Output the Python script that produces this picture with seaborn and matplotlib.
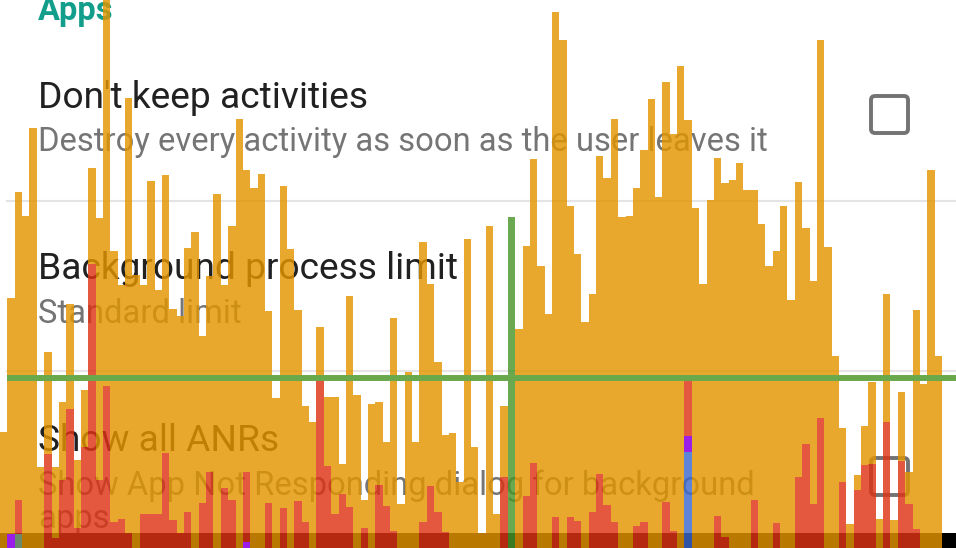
import numpy as np
import pandas as pd
import seaborn as sns
import matplotlib
matplotlib.use("Agg")
import matplotlib.pyplot as plt
import matplotlib.transforms as mtransforms
from matplotlib.patches import FancyBboxPatch, Rectangle

W, H = 956, 548
N_FRAMES = 128
BAR_PX = 942 / N_FRAMES
BAR_ALPHA = 0.82
STRIP_PX = 15          # dark navigation strip at the bottom
THRESHOLD_PX = 170     # 16 ms line, height above bottom edge

# total bar height per frame (px above bottom edge)
frame_total = [116, 250, 356, 332, 420, 81, 196, 81, 146, 244, 88, 158, 380, 330, 560, 297,
               263, 450, 273, 263, 367, 258, 373, 239, 232, 300, 316, 212, 272, 354, 263, 322,
               429, 378, 360, 374, 237, 150, 362, 299, 238, 142, 126, 221, 151, 151, 84, 252,
               153, 48, 144, 146, 106, 230, 44, 176, 106, 306, 264, 186, 113, 115, 66, 309,
               101, 15, 322, 34, 142, 331, 219, 302, 389, 282, 234, 536, 508, 342, 294, 226,
               254, 392, 370, 429, 331, 332, 360, 398, 449, 351, 466, 414, 482, 428, 340, 264,
               348, 390, 365, 368, 385, 358, 358, 324, 282, 297, 342, 248, 366, 320, 267, 508,
               301, 192, 120, 24, 73, 122, 166, 29, 254, 28, 156, 76, 238, 164, 378, 192]

# top of the red (command issue) part per frame, 0 = none
red_total = [0, 0, 48, 0, 0, 0, 94, 10, 68, 139, 20, 101, 284, 68, 162, 26,
             29, 15, 0, 34, 34, 34, 95, 28, 15, 36, 0, 45, 76, 0, 60, 48,
             0, 76, 0, 0, 45, 0, 40, 0, 47, 26, 0, 167, 82, 34, 54, 41,
             0, 20, 0, 63, 42, 17, 0, 0, 0, 26, 62, 36, 16, 0, 0, 0,
             0, 0, 0, 0, 71, 0, 0, 52, 85, 0, 0, 31, 0, 31, 27, 0,
             36, 74, 43, 26, 0, 0, 22, 26, 0, 0, 46, 17, 0, 167, 0, 0,
             0, 32, 11, 0, 0, 0, 48, 0, 0, 25, 0, 0, 71, 104, 44, 130,
             0, 0, 66, 0, 58, 83, 84, 0, 126, 0, 87, 44, 19, 0, 0, 0]

# small bottom segments of other stages
purple_frames = [1, 33, 93]
purple_lo = [0, 0, 96]
purple_hi = [14, 6, 112]
grey_frames = [2]
grey_hi = [14]
blue_frames = [93]
blue_hi = [96]
layout_frame = 69

C_ORANGE = "#e39500"
C_RED = "#dd3314"
C_GREEN = "#4a962a"
C_BLUE = "#3b69cd"
C_PURPLE = "#9a1ee8"
C_GREY = "#6b8a6b"
C_LINE = "#69a94c"

total = np.array(frame_total, float)
red = np.array(red_total, float)
base = np.zeros(N_FRAMES)
for f, hi in zip(purple_frames, purple_hi):
    base[f] = max(base[f], hi)
for f, hi in zip(grey_frames, grey_hi):
    base[f] = max(base[f], hi)

red_bottom = base
red_height = np.clip(red - base, 0, None)
orange_bottom = np.maximum(red, base)
orange_height = np.clip(total - orange_bottom, 0, None)
orange_height[layout_frame] = 0


def layer(ax, bottoms, heights, color, alpha=BAR_ALPHA):
    df = pd.DataFrame({"frame": np.arange(N_FRAMES), "h": heights})
    sns.barplot(data=df, x="frame", y="h", bottom=np.asarray(bottoms, float),
                color=color, alpha=alpha, width=1, saturation=1, errorbar=None,
                linewidth=0, edgecolor="none", zorder=3, ax=ax)


fig = plt.figure(figsize=(W / 100, H / 100), dpi=100)
ax = fig.add_axes([0, 0, 1, 1])
pix = mtransforms.Affine2D().scale(1 / W, -1 / H).translate(0, 1) + ax.transAxes

# settings screen underneath
font = ["Roboto", "DejaVu Sans"]
ax.text(38, 20, "Apps", transform=pix, color="#139e8b", fontsize=23.5,
        fontweight="bold", family=font, zorder=1)
titles = [("Don't keep activities", 108), ("Background process limit", 279),
          ("Show all ANRs", 451)]
for txt, y in titles:
    ax.text(38, y, txt, transform=pix, color="#212121", fontsize=26.7, family=font, zorder=1)
summaries = [("Destroy every activity as soon as the user leaves it", 151),
             ("Standard limit", 323),
             ("Show App Not Responding dialog for background", 495), ("apps", 528)]
for txt, y in summaries:
    ax.text(38, y, txt, transform=pix, color="#757575", fontsize=23.6, family=font, zorder=1)
for y in (201, 371):
    ax.plot([7, W], [y, y], transform=pix, color="#e4e4e4", lw=1.5, zorder=1)
for y in (96, 458):
    ax.add_patch(FancyBboxPatch((871, y), 37, 37, boxstyle="round,pad=0,rounding_size=4",
                                transform=pix, fill=False, edgecolor="#737373", lw=2.8, zorder=1))
ax.add_patch(Rectangle((0, H - STRIP_PX), W, STRIP_PX, transform=pix,
                       facecolor="black", edgecolor="none", zorder=2))

# profile bars
layer(ax, red_bottom, red_height, C_RED)
layer(ax, orange_bottom, orange_height, C_ORANGE)
green_h = np.zeros(N_FRAMES)
green_h[layout_frame] = total[layout_frame]
layer(ax, np.zeros(N_FRAMES), green_h, C_GREEN)
blue_h = np.zeros(N_FRAMES)
for f, hi in zip(blue_frames, blue_hi):
    blue_h[f] = hi
layer(ax, np.zeros(N_FRAMES), blue_h, C_BLUE)
pb = np.zeros(N_FRAMES)
ph = np.zeros(N_FRAMES)
for f, lo, hi in zip(purple_frames, purple_lo, purple_hi):
    pb[f], ph[f] = lo, hi - lo
layer(ax, pb, ph, C_PURPLE, alpha=1)
gh = np.zeros(N_FRAMES)
for f, hi in zip(grey_frames, grey_hi):
    gh[f] = hi
layer(ax, np.zeros(N_FRAMES), gh, C_GREY, alpha=1)

ax.plot([7, W], [H - THRESHOLD_PX, H - THRESHOLD_PX], transform=pix,
        color=C_LINE, lw=4.3, solid_capstyle="butt", zorder=5)

ax.set_xlim(-0.5, -0.5 + W / BAR_PX)
ax.set_ylim(0, H)
ax.axis("off")
fig.savefig("out.png", dpi=100, facecolor="white")
